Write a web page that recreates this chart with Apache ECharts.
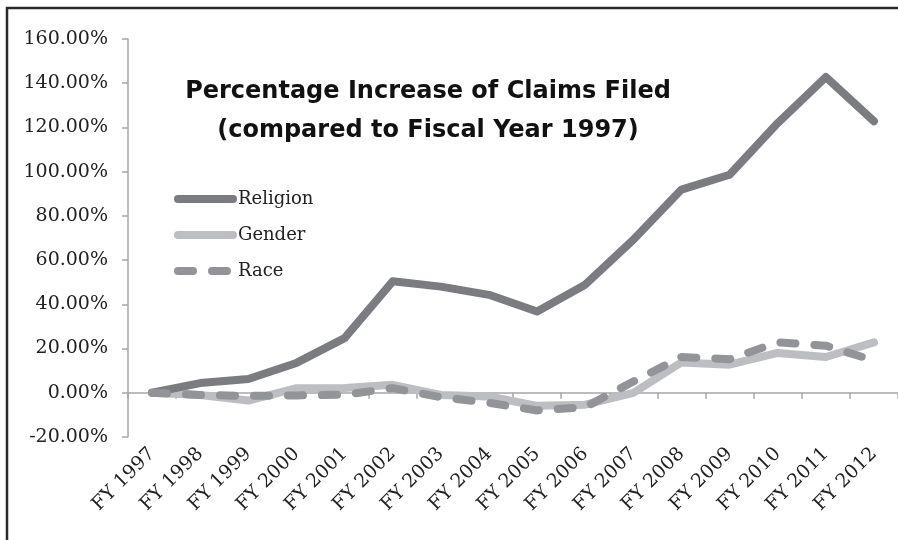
<!DOCTYPE html>
<html>
<head>
    <meta charset="utf-8">
    <title>Percentage Increase of Claims Filed</title>
    <script src="https://cdn.jsdelivr.net/npm/echarts@6/dist/echarts.min.js"></script>
    <style>
        html, body { margin: 0; padding: 0; background: #fff; overflow: hidden; }
    </style>
</head>
<body>
    <div id="chart" style="width: 898px;height:540px;"></div>
    <script type="text/javascript">
        // fiscal years on the x axis
        var years = ['FY 1997', 'FY 1998', 'FY 1999', 'FY 2000', 'FY 2001', 'FY 2002', 'FY 2003', 'FY 2004',
                     'FY 2005', 'FY 2006', 'FY 2007', 'FY 2008', 'FY 2009', 'FY 2010', 'FY 2011', 'FY 2012'];

        // % increase vs FY 1997
        var religion = [0, 4.4, 6.2, 13.5, 24.7, 50.4, 48, 44.3, 36.8, 48.9, 69.2, 91.9, 98.6, 122, 142.8, 122.8];
        var gender = [0, -1, -3.5, 2.1, 2.2, 3.6, -1, -1.7, -5.9, -5.4, 0, 13.7, 12.7, 18, 16.2, 22.8];
        var race = [0, -1, -1.4, -1.2, -0.9, 2.1, -2, -4.5, -8, -6.5, 5.1, 16.2, 15.2, 22.8, 21.3, 14.6];

        var chart = echarts.init(document.getElementById('chart'));

        var serif = 'DejaVu Serif';

        chart.setOption({
            backgroundColor: '#fff',
            animation: false,
            title: {
                text: 'Percentage Increase of Claims Filed\n(compared to Fiscal Year 1997)',
                left: 428,
                top: 72,
                padding: 0,
                textAlign: 'center',
                textStyle: {
                    fontFamily: 'DejaVu Sans',
                    fontWeight: 'bold',
                    fontSize: 24,
                    lineHeight: 39,
                    color: '#111',
                    align: 'center'
                }
            },
            legend: {
                orient: 'vertical',
                left: 174,
                top: 190,
                padding: 0,
                itemWidth: 55,
                itemHeight: 18,
                itemGap: 18,
                itemStyle: { opacity: 0 },
                lineStyle: { width: 8, cap: 'round' },
                textStyle: { fontFamily: serif, fontSize: 18, color: '#222', padding: 0 },
                data: ['Religion', 'Gender', 'Race']
            },
            grid: {
                left: 128,
                top: 39,
                width: 773,
                height: 398,
                containLabel: false
            },
            xAxis: {
                type: 'category',
                data: years,
                boundaryGap: true,
                axisLine: { lineStyle: { color: '#a6a6a6', width: 1.5 } },
                axisTick: { show: true, interval: 0, length: 6, lineStyle: { color: '#a6a6a6', width: 1.5 } },
                axisLabel: {
                    interval: 0,
                    rotate: 45,
                    margin: 14,
                    fontFamily: serif,
                    fontSize: 19,
                    color: '#222'
                },
                splitLine: { show: false }
            },
            yAxis: {
                type: 'value',
                min: -20,
                max: 160,
                interval: 20,
                axisLine: { show: true, lineStyle: { color: '#a6a6a6', width: 1.5 } },
                axisTick: { show: true, length: 6, lineStyle: { color: '#a6a6a6', width: 1.5 } },
                axisLabel: {
                    margin: 20,
                    fontFamily: serif,
                    fontSize: 19,
                    color: '#222',
                    formatter: function (v) { return v.toFixed(2) + '%'; }
                },
                splitLine: { show: false }
            },
            graphic: [{
                // frame: only the top and left edges show in the picture
                type: 'polyline',
                shape: { points: [[7, 545], [7, 8], [898, 8]] },
                style: { fill: null, stroke: '#2a2a2a', lineWidth: 2.5 },
                silent: true,
                z: 100
            }],
            series: [{
                name: 'Religion',
                type: 'line',
                data: religion,
                symbol: 'none',
                color: '#7b7c80',
                lineStyle: { width: 8, color: '#7b7c80', cap: 'round', join: 'round' },
                z: 3
            }, {
                name: 'Gender',
                type: 'line',
                data: gender,
                symbol: 'none',
                color: '#bdbec1',
                lineStyle: { width: 8, color: '#bdbec1', cap: 'round', join: 'round' },
                z: 2
            }, {
                name: 'Race',
                type: 'line',
                data: race,
                symbol: 'none',
                color: '#939498',
                lineStyle: { width: 8, color: '#939498', type: [15, 19], cap: 'round', join: 'round' },
                z: 4
            }]
        });
    </script>
</body>
</html>
